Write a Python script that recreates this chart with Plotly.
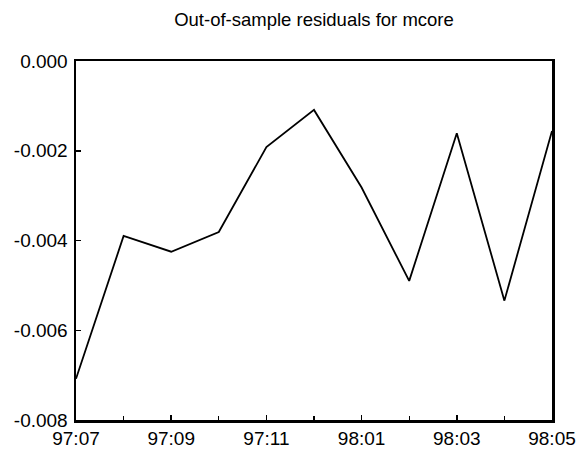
import plotly.graph_objects as go

months = ["97:07", "97:08", "97:09", "97:10", "97:11", "97:12",
          "98:01", "98:02", "98:03", "98:04", "98:05"]
residuals = [-0.00708, -0.00390, -0.00425, -0.00381, -0.00192, -0.00109,
             -0.00282, -0.00490, -0.00161, -0.00534, -0.00156]
y_ticks = [0.0, -0.002, -0.004, -0.006, -0.008]
y_tick_labels = ["0.000", "-0.002", "-0.004", "-0.006", "-0.008"]

idx = list(range(len(months)))

W, H = 580, 449

fig = go.Figure(go.Scatter(
    x=idx, y=residuals, mode="lines",
    line=dict(color="black", width=1.8), hoverinfo="skip"))

font = dict(family="Liberation Sans, Arial, sans-serif", color="black")

fig.update_layout(
    width=W, height=H,
    margin=dict(l=76, r=28, t=61, b=29, autoexpand=False),
    paper_bgcolor="white", plot_bgcolor="white",
    showlegend=False,
    title=dict(text="Out-of-sample residuals for mcore",
               x=314 / W, xanchor="center",
               y=1 - 20 / H, yanchor="middle",
               font=dict(size=18.5, **font)),
    font=dict(size=19, **font),
)
fig.update_xaxes(
    range=[0, len(months) - 1],
    tickmode="array", tickvals=idx[::2], ticktext=months[::2],
    ticks="inside", ticklen=5, tickwidth=1.5, tickcolor="black",
    minor=dict(tickmode="array", tickvals=idx[1::2], ticks="inside",
               ticklen=4, tickwidth=1.2, tickcolor="black"),
    showline=True, linecolor="black", linewidth=2.5, mirror=True,
    showgrid=False, zeroline=False,
    tickfont=dict(size=19, **font),
)
fig.update_yaxes(
    range=[-0.008, 0.0],
    tickmode="array", tickvals=y_ticks, ticktext=y_tick_labels,
    ticks="inside", ticklen=5, tickwidth=1.5, tickcolor="black",
    ticklabelstandoff=2,
    showline=True, linecolor="black", linewidth=2.5, mirror=True,
    showgrid=False, zeroline=False,
    tickfont=dict(size=19, **font),
)

fig.write_html(
    "out.html",
    config={"displayModeBar": False, "staticPlot": True},
    post_script="document.body.style.margin='0';"
                "document.body.style.overflow='hidden';")
